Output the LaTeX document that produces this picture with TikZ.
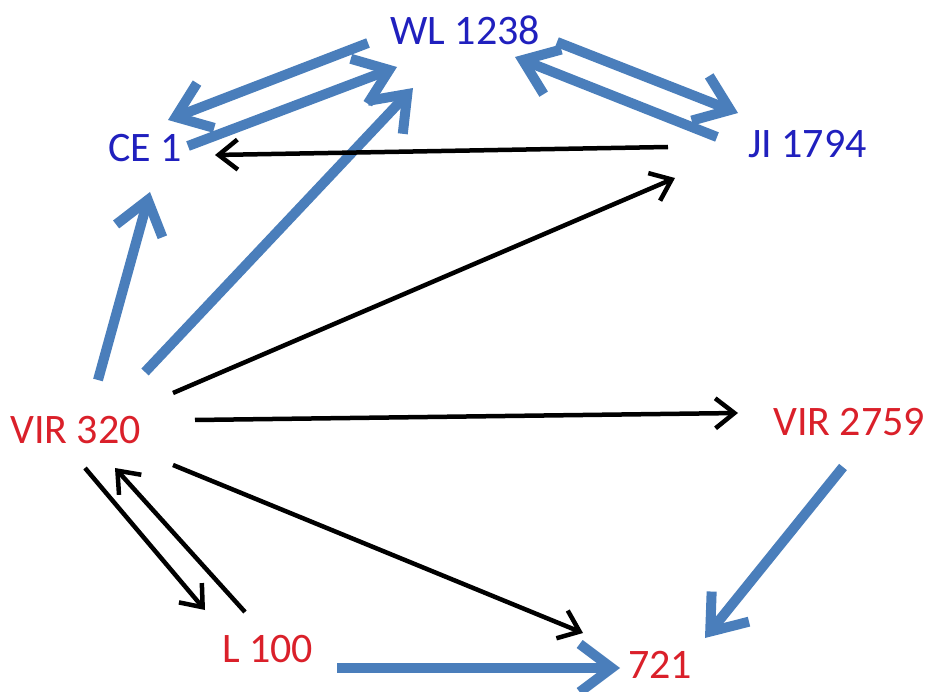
\documentclass[tikz,border=0pt]{standalone}
\usepackage{fontspec}
\setmainfont{Carlito}
\usetikzlibrary{arrows.meta}
\definecolor{nodeblue}{RGB}{32,32,190}
\definecolor{nodered}{RGB}{218,32,42}
\definecolor{linkblue}{RGB}{74,126,187}
\tikzset{
  lbl/.style={anchor=base west, inner sep=0pt, font=\fontsize{42}{50}\selectfont},
  bluelbl/.style={lbl, text=nodeblue},
  redlbl/.style={lbl, text=nodered},
  thick link/.style={draw=linkblue, line width=10pt,
    -{Straight Barb[length=32pt,width=48pt,line width=10pt]}},
  thin link/.style={draw=black, line width=4.5pt,
    -{Straight Barb[length=19pt,width=30pt,line width=4.5pt]}},
}
\begin{document}
\begin{tikzpicture}[x=1pt,y=-1pt]
\useasboundingbox (0,0) rectangle (927,692);

\node[bluelbl] (wl)    at (390,45)  {WL 1238};
\node[bluelbl] (ce)    at (108,162) {CE 1};
\node[bluelbl] (ji)    at (748,158) {JI 1794};
\node[redlbl]  (v320)  at (10,444)  {VIR 320};
\node[redlbl]  (v2759) at (773,436) {VIR 2759};
\node[redlbl]  (l100)  at (222,662) {L 100};
\node[redlbl]  (n721)  at (628,678) {721};

% thick blue links
\draw[thick link] ([shift={(-22,-2)}]wl.base west) -- ([shift={(60,-42)}]ce.base west);
\draw[thick link] ([shift={(80,-16)}]ce.base west) -- ([shift={(7,22)}]wl.base west);
\draw[thick link] ([shift={(135,-72)}]v320.base west) -- ([shift={(23,43)}]wl.base west);
\draw[thick link] ([shift={(88,-64)}]v320.base west) -- ([shift={(42,30)}]ce.base west);
\draw[thick link] ([shift={(167,-3)}]wl.base west) -- ([shift={(-10,-45)}]ji.base west);
\draw[thick link] ([shift={(-31,-21)}]ji.base west) -- ([shift={(125,12)}]wl.base west);
\draw[thick link] ([shift={(70,31)}]v2759.base west) -- ([shift={(77,-40)}]n721.base west);
\draw[thick link] ([shift={(115,6)}]l100.base west) -- ([shift={(-8,-10)}]n721.base west);

% thin black links
\draw[thin link] ([shift={(-80,-11)}]ji.base west) -- ([shift={(107,-7)}]ce.base west);
\draw[thin link] ([shift={(163,-51)}]v320.base west) -- ([shift={(-73,20)}]ji.base west);
\draw[thin link] ([shift={(185,-24)}]v320.base west) -- ([shift={(-35,-23)}]v2759.base west);
\draw[thin link] ([shift={(163,21)}]v320.base west) -- ([shift={(-45,-45)}]n721.base west);
\draw[thin link] ([shift={(75,24)}]v320.base west) -- ([shift={(-17,-52)}]l100.base west);
\draw[thin link] ([shift={(23,-50)}]l100.base west) -- ([shift={(105,24)}]v320.base west);
\end{tikzpicture}
\end{document}
